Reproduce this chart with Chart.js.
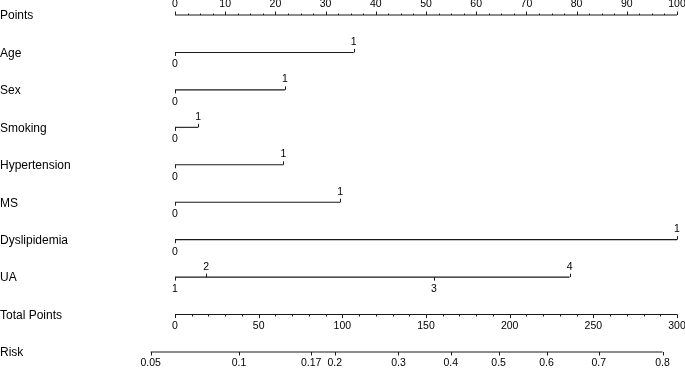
<!DOCTYPE html>
<html>
<head>
<meta charset="utf-8">
<script src="https://cdn.jsdelivr.net/npm/chart.js@4.4.1/dist/chart.umd.min.js"></script>
<style>
  html, body { margin: 0; padding: 0; background: #fff; }
  canvas { display: block; }
</style>
</head>
<body>
<canvas id="nomogram" width="685" height="368"></canvas>
<script>
// rows from top to bottom
const rowNames = ['Points', 'Age', 'Sex', 'Smoking', 'Hypertension', 'MS', 'Dyslipidemia', 'UA', 'Total Points', 'Risk'];

// points given to each level of each predictor (0-100 scale)
const binaryLevels = ['0', '1'];
const agePoints = [0, 35.6];
const sexPoints = [0, 21.9];
const smokingPoints = [0, 4.6];
const hypertensionPoints = [0, 21.6];
const msPoints = [0, 32.9];
const dyslipidemiaPoints = [0, 100];
const uaLevels = ['1', '2', '3', '4'];
const uaPoints = [0, 6.2, 51.6, 78.6];

// axis ticks
const pointsTicks = [0, 10, 20, 30, 40, 50, 60, 70, 80, 90, 100];
const pointsMinorStep = 2.5;
const totalPointsTicks = [0, 50, 100, 150, 200, 250, 300];
const totalPointsMinorStep = 10;
const totalPointsMax = 300;
const riskTicks = [0.05, 0.1, 0.17, 0.2, 0.3, 0.4, 0.5, 0.6, 0.7, 0.8];

// logistic model: logit(risk) = lpIntercept + lpPerTotalPoint * totalPoints
const lpIntercept = -2.738;
const lpPerTotalPoint = 0.014156;

const variables = [
    {name: 'Age', levels: binaryLevels, points: agePoints},
    {name: 'Sex', levels: binaryLevels, points: sexPoints},
    {name: 'Smoking', levels: binaryLevels, points: smokingPoints},
    {name: 'Hypertension', levels: binaryLevels, points: hypertensionPoints},
    {name: 'MS', levels: binaryLevels, points: msPoints},
    {name: 'Dyslipidemia', levels: binaryLevels, points: dyslipidemiaPoints},
    {name: 'UA', levels: uaLevels, points: uaPoints},
];

const totalToPoints = (tp) => tp * 100 / totalPointsMax;
const riskToPoints = (p) => totalToPoints((Math.log(p / (1 - p)) - lpIntercept) / lpPerTotalPoint);

const rowOf = (name) => rowNames.indexOf(name);
const lineColor = '#1a1a1a';
const textColor = '#000';
const fontFamily = '"Liberation Sans", Arial, Helvetica, sans-serif';

function rowLine(name, xs) {
    return {
        label: name,
        data: xs.map(x => ({x: x, y: rowOf(name)})),
        borderColor: lineColor,
        borderWidth: 1.1,
        pointRadius: 0,
        tension: 0,
        clip: false
    };
}

const datasets = [
    rowLine('Points', [0, 100]),
    ...variables.map(v => rowLine(v.name, v.points)),
    rowLine('Total Points', [totalToPoints(0), totalToPoints(totalPointsMax)]),
    rowLine('Risk', [riskToPoints(riskTicks[0]), riskToPoints(riskTicks[riskTicks.length - 1])])
];

const nomogramMarks = {
    id: 'nomogramMarks',
    afterDatasetsDraw(chart) {
        const {ctx, scales: {x, y}} = chart;
        ctx.save();
        ctx.strokeStyle = lineColor;
        ctx.lineWidth = 1;
        ctx.fillStyle = textColor;

        const tick = (val, row, len) => {
            const px = Math.round(x.getPixelForValue(val)) + 0.5;
            const py = y.getPixelForValue(row);
            ctx.beginPath();
            ctx.moveTo(px, py);
            ctx.lineTo(px, py + len);
            ctx.stroke();
        };
        const label = (text, val, row, dy) => {
            ctx.fillText(text, x.getPixelForValue(val), y.getPixelForValue(row) + dy);
        };

        // row titles
        ctx.font = '12px ' + fontFamily;
        ctx.textAlign = 'left';
        ctx.textBaseline = 'middle';
        rowNames.forEach((name, i) => {
            ctx.fillText(name, 0, y.getPixelForValue(i) + 1);
        });

        ctx.font = '10.5px ' + fontFamily;
        ctx.textAlign = 'center';

        // Points axis: ticks and labels above
        const pr = rowOf('Points');
        for (let v = 0; v <= 100; v += pointsMinorStep) tick(v, pr, -1.5);
        pointsTicks.forEach(v => {
            tick(v, pr, -3.5);
            label(String(v), v, pr, -10.5);
        });

        // predictor rows: labels alternate below / above
        variables.forEach(vr => {
            const r = rowOf(vr.name);
            vr.points.forEach((p, i) => {
                const up = i % 2 === 1;
                tick(p, r, up ? -3.5 : 3.5);
                label(vr.levels[i], p, r, up ? -10.5 : 12);
            });
        });

        // Total Points axis
        const tr = rowOf('Total Points');
        for (let v = 0; v <= totalPointsMax; v += totalPointsMinorStep) tick(totalToPoints(v), tr, 2);
        totalPointsTicks.forEach(v => {
            tick(totalToPoints(v), tr, 3.5);
            label(String(v), totalToPoints(v), tr, 12);
        });

        // Risk axis
        const rr = rowOf('Risk');
        riskTicks.forEach(p => {
            tick(riskToPoints(p), rr, 3.5);
            label(String(p), riskToPoints(p), rr, 11.5);
        });

        ctx.restore();
    }
};

new Chart(document.getElementById('nomogram'), {
    type: 'line',
    data: {datasets: datasets},
    options: {
        responsive: false,
        animation: false,
        events: [],
        layout: {padding: {left: 175, right: 8, top: 15, bottom: 16}},
        scales: {
            x: {type: 'linear', min: 0, max: 100, display: false},
            y: {type: 'linear', min: 0, max: rowNames.length - 1, reverse: true, display: false}
        },
        plugins: {
            legend: {display: false},
            tooltip: {enabled: false}
        }
    },
    plugins: [nomogramMarks]
});
</script>
</body>
</html>
